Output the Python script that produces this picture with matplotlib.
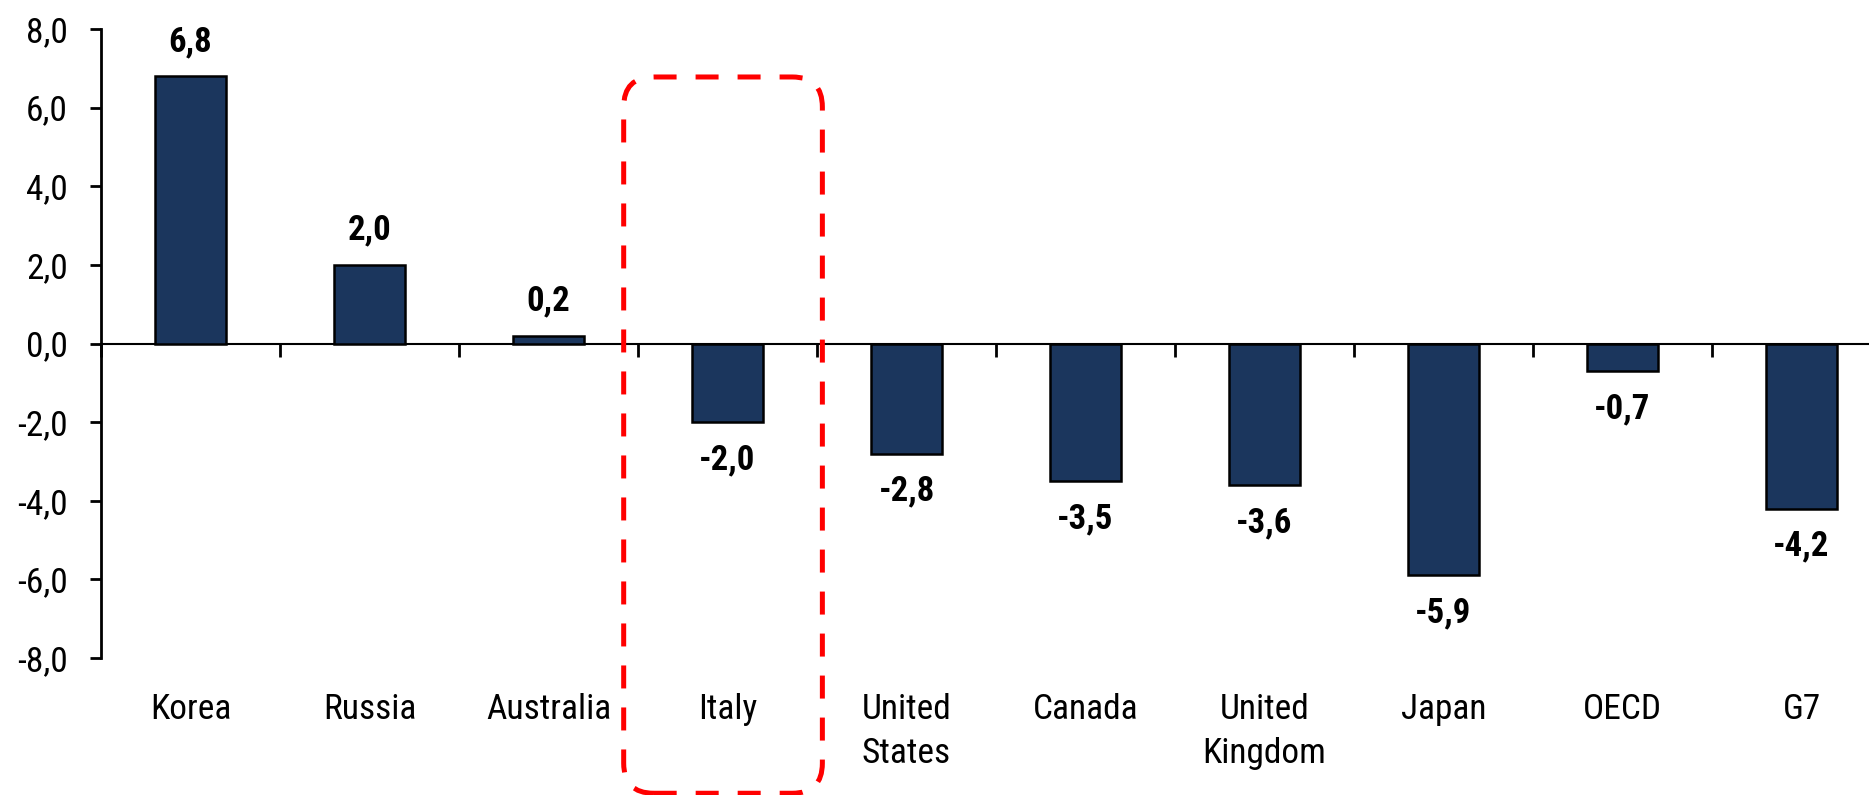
import numpy as np
import matplotlib
matplotlib.use("Agg")
import matplotlib.pyplot as plt
from matplotlib.patches import FancyBboxPatch

# data
countries = ["Korea", "Russia", "Australia", "Italy", "United\nStates", "Canada",
             "United\nKingdom", "Japan", "OECD", "G7"]
values = [6.8, 2.0, 0.2, -2.0, -2.8, -3.5, -3.6, -5.9, -0.7, -4.2]
yticks = [-8, -6, -4, -2, 0, 2, 4, 6, 8]
highlight = "Italy"

bar_color = "#1B365D"

plt.rcParams['font.family'] = ['Roboto Condensed', 'Liberation Sans', 'DejaVu Sans']

fig = plt.figure(figsize=(18.69, 7.95), dpi=100)
ax = fig.add_axes([101 / 1869, 0.1723, 1790 / 1869, 0.7912])

x = np.arange(len(countries))
ax.bar(x, values, width=0.40, color=bar_color, edgecolor="black", linewidth=1.8, zorder=3)

# value labels
for xi, v in zip(x, values):
    off = 25 if v >= 0 else -27
    ax.annotate(f"{v:.1f}".replace(".", ","), (xi, v), xytext=(0, off),
                textcoords="offset points", ha="center", va="center",
                fontsize=25, fontweight="bold")

ax.set_xlim(-0.5, len(countries) - 0.5)
ax.set_ylim(-8, 8)
ax.set_yticks(yticks)
ax.set_yticklabels([f"{t:.1f}".replace(".", ",") for t in yticks], fontsize=25.5)
ax.tick_params(axis="y", direction="out", length=8, width=2, pad=16)

# zero line with ticks between categories
ax.spines["bottom"].set_position(("data", 0))
ax.spines["bottom"].set_linewidth(1.5)
ax.spines["left"].set_linewidth(2)
ax.spines["top"].set_visible(False)
ax.spines["right"].set_visible(False)
ax.set_xticks(np.arange(len(countries) + 1) - 0.5)
ax.set_xticklabels([])
ax.tick_params(axis="x", direction="out", length=9, width=2)

# category names at the bottom of the axes
sec = ax.secondary_xaxis(0)
sec.set_xticks(x)
sec.set_xticklabels(countries, fontsize=25.5, linespacing=1.42)
sec.tick_params(length=0, pad=25)
sec.spines["bottom"].set_visible(False)

# dashed rounded box around the highlighted country
fig.canvas.draw()
i = countries.index(highlight)
(px0, py1) = ax.transData.transform((i - 0.58, 6.78))
(px1, _) = ax.transData.transform((i + 0.53, 0))
(_, py0) = ax.transAxes.transform((0, -0.215))
box = FancyBboxPatch((px0, py0), px1 - px0, py1 - py0,
                     boxstyle="round,pad=0,rounding_size=30",
                     transform=None, fill=False, edgecolor="#FF0000",
                     linewidth=3.6, linestyle=(0, (4.6, 3.8)), clip_on=False, zorder=5)
fig.patches.append(box)

fig.savefig("out.png", dpi=100)
